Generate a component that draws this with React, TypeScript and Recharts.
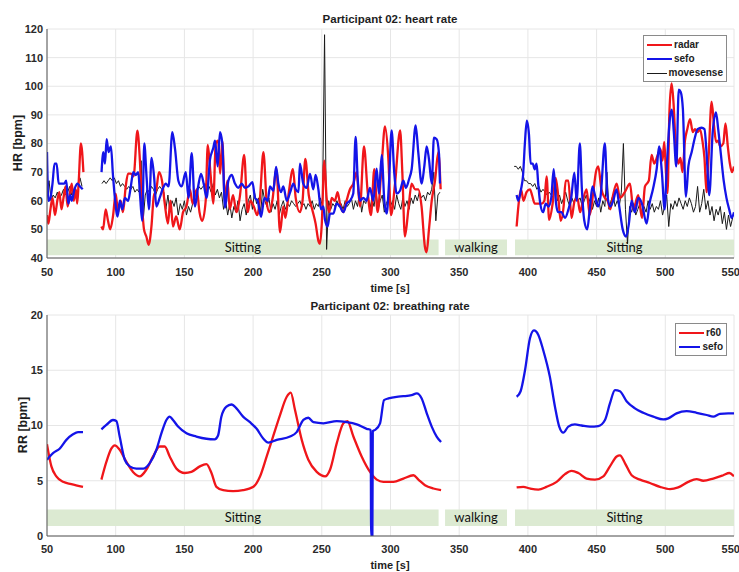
import React from 'react';
import { LineChart, Line, XAxis, YAxis, CartesianGrid, ReferenceArea, Legend } from 'recharts';

type Pt = [number, number];
type Row = { t: number; v: number | null };

const X_TICKS = [50, 100, 150, 200, 250, 300, 350, 400, 450, 500, 550];
const HR_TICKS = [40, 50, 60, 70, 80, 90, 100, 110, 120];
const RR_TICKS = [0, 5, 10, 15, 20];

const ACTIVITIES = [
  { label: 'Sitting', from: 50, to: 335 },
  { label: 'walking', from: 339.7, to: 384.8 },
  { label: 'Sitting', from: 390.6, to: 550 },
];

// heart rate, radar
const radarA: Pt[] = [
  [50, 55], [51, 52], [52.5, 57], [54, 61], [55.8, 55], [57.5, 60], [59, 63], [60.5, 57], [62, 61], [63.5, 65],
  [65, 58], [66.5, 62], [68, 66], [69.5, 60], [71, 64], [72, 59], [73, 66], [74.7, 80], [76.5, 70],
];
const radarB: Pt[] = [
  [89.6, 51], [90.8, 50], [92.7, 57], [94.4, 53], [96, 50], [98, 54.5], [100, 62.5], [101.7, 56], [103.6, 60], [105.3, 56],
  [107.3, 65], [109, 69.5], [111, 69.5], [113, 68.5], [115.8, 84.5], [117.5, 75], [119, 60], [120.6, 50], [122.3, 47.5], [124, 44.6],
  [126, 51], [127.7, 61.5], [129.6, 64], [131.5, 70], [133.7, 67], [135.7, 59], [138, 52], [139.8, 60], [141.7, 51], [144, 54.5],
  [146.6, 50], [149, 56], [151.5, 58], [154, 64], [156, 59], [159, 64], [161, 56], [163, 53], [165.5, 60], [167, 79.5],
  [169, 69.5], [171, 59], [172.8, 80], [174.5, 81], [176, 69.5], [177.6, 81], [179.4, 60], [181.3, 67], [183, 57], [185.4, 62],
  [187.9, 56], [190.5, 62], [193.5, 76], [196, 56], [198, 60], [200.5, 58], [203, 55], [205, 61], [207.5, 77], [210, 59],
  [212, 56], [214, 60], [217, 71], [219.6, 49], [222, 58], [223.5, 54], [226, 63], [229, 71], [231, 61], [234, 56],
  [236, 60], [238, 74.6], [240.5, 62], [243, 57], [245.5, 52], [247.5, 46], [248.7, 45], [250, 52], [251.8, 74], [253.5, 61],
  [255.5, 56], [257.2, 61], [259.5, 60], [261.5, 63], [263.2, 59], [265.6, 56], [268, 60], [270.5, 64], [273, 66], [275.3, 70],
  [277.8, 58], [280.7, 79], [283.4, 63], [285.8, 55], [288.2, 71], [290.6, 56], [293.5, 72], [296, 86], [298.4, 75], [300.4, 55],
  [303.3, 66], [307, 84.6], [308.6, 70], [310.5, 47.5], [313, 57], [315.4, 66], [317.8, 64], [320.2, 64], [322.6, 58], [325, 44],
  [326.3, 42], [328, 50], [330, 60], [332.4, 67], [334.8, 77], [336.5, 64],
];
const radarC: Pt[] = [
  [391.8, 51], [393.5, 60], [395, 64], [396.8, 60], [399, 63], [401.5, 64], [403, 62], [405, 59], [407.5, 59], [410, 59],
  [412, 60], [413.6, 68.5], [415.5, 53.3], [418, 59], [420.2, 68], [422, 62], [423.8, 53], [426, 58], [427.5, 67], [429.4, 67],
  [431.8, 54], [434, 60], [436, 61], [438, 56], [440, 60], [442.7, 64], [445, 55], [447.6, 63], [449.5, 70], [451.2, 72],
  [453.5, 64], [456, 61], [458, 60], [460, 57], [462, 62], [464.6, 66], [467, 61], [470.5, 63], [474.3, 66], [476.7, 57],
  [480.3, 62], [483, 54], [485.2, 65], [488, 67], [490, 76], [492, 73], [494.5, 76], [496.5, 78], [498, 74], [499.2, 80.6],
  [500.5, 70], [501.6, 62.6], [503, 91], [504.6, 101], [506, 94], [507.5, 80], [509.5, 73], [511, 75], [512.5, 70], [514.3, 81],
  [516, 85], [518, 88.5], [520, 84], [521.6, 85], [523.5, 84], [525.2, 85], [527, 81], [528.5, 75], [530, 63], [531.5, 75],
  [533.7, 94.6], [535.5, 86], [537, 80.5], [538.5, 81], [540, 79], [542.2, 80], [543.8, 87], [545.5, 79], [547, 73], [548.5, 70],
  [550, 72],
];

// heart rate, sefo
const sefoA: Pt[] = [
  [50, 77], [51, 60], [52.5, 61], [54, 66], [55.5, 73], [57, 73], [58.5, 66], [60.5, 66], [62.5, 66], [64, 67],
  [65.5, 59], [67, 62], [68, 60], [70, 64], [72, 66], [74, 65], [76, 64],
];
const sefoB: Pt[] = [
  [89.7, 70], [91, 77], [92.2, 73], [93.4, 81.5], [94.8, 77], [96.5, 79], [98, 69], [99.4, 61], [101.4, 54.5], [103, 60],
  [104.8, 57], [106.7, 61], [109, 60], [111, 65], [112.8, 70], [114.5, 69], [116.4, 70], [117.7, 62], [119.3, 53], [120.8, 80],
  [122.5, 68], [124.2, 57], [126.1, 75], [128, 68], [129.6, 58], [132, 61], [134.5, 64.5], [136.5, 66], [138.5, 65], [141.2, 84],
  [143.2, 78], [145.6, 67], [148, 65], [151, 70], [153, 61], [155.3, 76.6], [157.7, 58], [160, 65], [162.1, 69.4], [164, 66],
  [166.2, 61], [168.6, 74.3], [171, 78.4], [172.3, 81], [174.2, 72], [175.9, 84], [177.6, 80], [179.6, 57.6], [182, 67], [184.4, 69],
  [186.8, 66], [189.2, 64.5], [191.7, 66], [194.1, 64.5], [196.6, 65], [199.5, 66.5], [201.4, 61], [203.3, 60], [205.8, 54.4], [208.2, 61],
  [210.6, 60], [212.3, 65], [214.7, 63.5], [216.7, 71.8], [218.4, 66], [220.3, 63], [222, 65], [224.5, 60], [227, 63], [229.3, 66],
  [231, 64], [233, 63], [234.1, 73], [236.5, 66], [239, 64.5], [241.4, 69.4], [243.8, 64], [245.5, 69], [247.5, 64], [249.4, 57],
  [251.1, 58], [252.3, 53.4], [254.2, 51], [256, 55.5], [258.4, 55.5], [260.8, 59], [263.2, 58], [265.7, 56], [268.1, 59], [270.5, 60],
  [272.9, 62.5], [274.6, 82.3], [276.1, 68], [277.8, 60], [280.2, 61], [282.6, 60], [285, 64.5], [287.5, 60], [289.9, 71.2], [291.6, 62.5],
  [293.6, 75.9], [295.5, 60], [297.2, 55.5], [298.9, 66], [300.8, 84.6], [302.7, 70], [304.5, 62.5], [306.9, 63.5], [309.3, 67], [311.2, 64.5],
  [313.5, 67.5], [315.4, 71], [318.3, 86.3], [320.2, 77], [322.7, 66], [324.6, 72], [326.3, 79], [328, 74.5], [330, 66], [331.6, 82],
  [333.6, 81.5], [335.3, 76.4], [336, 66],
];
const sefoC: Pt[] = [
  [391.8, 62], [393, 60], [395, 64], [396.5, 69], [397.8, 80], [399.2, 88], [400.8, 83], [402, 73], [403.5, 73], [405, 71],
  [406.3, 73], [407.5, 66], [409, 59], [411, 56], [413, 59], [415, 58], [417, 61], [418.8, 71], [420.5, 59], [422, 56],
  [424.5, 56], [427, 54], [429.5, 57], [431.5, 61], [433.8, 69.8], [435.5, 60], [437.8, 80], [439.3, 64], [441, 53.2], [443.2, 50],
  [445, 57], [447, 65], [448.8, 62], [451, 58], [453, 62], [456, 80], [457.8, 62], [460, 58], [462.1, 60], [464.5, 64],
  [466.5, 58], [469, 50], [471.5, 47.5], [473.5, 52], [475.5, 60], [477.8, 56], [480.5, 61], [483, 59], [486.4, 52], [488.5, 59],
  [491, 64], [493.7, 71], [495.5, 79], [497.5, 70], [499.5, 57], [501, 71], [503.4, 89], [504.8, 91.8], [506.2, 84], [508, 72],
  [509.8, 98.8], [511.2, 98], [512.8, 92], [515, 61.4], [516.8, 72], [519.2, 77], [521.5, 82], [523.5, 85], [526.4, 85.5], [528.5, 85],
  [530, 77], [532, 62], [534.5, 84], [536.9, 90.9], [538.5, 85], [540.5, 76], [542.5, 67], [544.5, 61], [546.5, 57], [548.3, 54],
  [550, 56],
];

// heart rate, movesense (one value every 1.5 s from each start time)
const MOVESENSE_STEP = 1.5;
const movesenseA = { start: 50, values: [63, 67, 60, 62, 61, 63, 61, 62, 64, 62, 63, 65, 62, 64, 65, 66, 68, 65] };
const movesenseB = {
  start: 90,
  values: [
    66, 67, 66, 67, 68, 67, 68, 66, 67, 65,
    66, 65, 64, 65, 64, 65, 63, 64, 63, 74,
    53, 62, 64, 63, 65, 64, 62, 64, 65, 64,
    63, 57, 62, 56, 60, 58, 61, 55, 59, 57,
    60, 55, 58, 56, 59, 62, 64, 65, 64, 65,
    66, 64, 65, 63, 66, 62, 64, 61, 63, 57,
    60, 55, 59, 54, 58, 56, 60, 53, 57, 59,
    55, 60, 62, 57, 63, 59, 61, 56, 64, 60,
    58, 61, 56, 59, 57, 60, 55, 58, 60, 57,
    59, 58, 60, 59, 58, 59, 60, 58, 59, 57,
    59, 58, 60, 57, 59, 58, 61, 58, 118, 43,
    60, 57, 59, 58, 60, 58, 59, 57, 60, 58,
    59, 61, 57, 60, 58, 63, 56, 60, 59, 62,
    57, 61, 58, 63, 57, 60, 62, 56, 59, 61,
    58, 60, 57, 62, 59, 57, 61, 58, 60, 57,
    61, 59, 62, 60, 63, 61, 62, 60, 63, 62,
    64, 70, 53, 62, 63,
  ],
};
const movesenseC = {
  start: 390,
  values: [
    72, 72, 71, 72, 70, 67, 67, 66, 66, 65,
    66, 64, 65, 63, 64, 63, 62, 63, 62, 61,
    68, 60, 62, 59, 61, 63, 60, 58, 61, 59,
    62, 60, 61, 58, 60, 62, 59, 61, 57, 60,
    58, 61, 56, 60, 58, 70, 57, 60, 62, 58,
    60, 58, 63, 80, 57, 45, 58, 56, 59, 55,
    57, 59, 55, 58, 56, 60, 57, 59, 56, 58,
    57, 60, 55, 58, 62, 51, 59, 57, 60, 58,
    61, 59, 57, 60, 58, 61, 59, 56, 58, 65,
    56, 59, 64, 57, 60, 55, 58, 53, 57, 55,
    58, 52, 56, 50, 55, 51, 54,
  ],
};

// breathing rate, r60
const r60A: Pt[] = [[50, 8.3], [53.2, 6.3], [56.8, 5.4], [61.7, 4.9], [67.7, 4.7], [76.2, 4.45]];
const r60B: Pt[] = [
  [89.6, 5.1], [93.2, 6.7], [96.8, 7.9], [99.3, 8.2], [102.9, 7.8], [107.8, 6.7], [112.6, 5.8], [117.5, 5.4], [122.3, 6.0], [127.2, 7.2],
  [132, 8.1], [135.7, 8.1], [139.3, 7.2], [144.2, 6.1], [150.2, 5.7], [155.1, 5.8], [161.2, 6.3], [166, 6.5], [169.7, 5.7], [173.3, 4.45],
  [178.2, 4.15], [185.4, 4.07], [192.7, 4.15], [200.2, 4.45], [205.1, 5.4], [209.9, 7.2], [214.8, 9.1], [219.6, 10.95], [224.5, 12.6], [227.4, 12.97],
  [230.5, 11.4], [235.4, 8.7], [240.2, 6.9], [246.3, 5.8], [252.4, 5.4], [256, 6.0], [260.9, 8.4], [265.7, 10.2], [268.6, 10.4], [273, 9.0],
  [279, 7.2], [285.1, 5.8], [290, 5.1], [294.8, 4.9], [302.1, 4.9], [309.4, 5.2], [316.7, 5.5], [320.3, 5.1], [325.1, 4.6], [331.2, 4.3],
  [336.8, 4.15],
];
const r60C: Pt[] = [
  [391.8, 4.4], [396.6, 4.45], [401.5, 4.3], [407.6, 4.2], [413.6, 4.45], [420.9, 4.9], [427, 5.6], [431.8, 5.9], [436.7, 5.7], [442.7, 5.2],
  [448.8, 5.1], [454.9, 5.4], [459.7, 6.3], [464.6, 7.2], [467, 7.3], [470.6, 6.6], [475.5, 5.5], [481.6, 5.1], [488.8, 4.8], [496.1, 4.45],
  [503.4, 4.25], [509.4, 4.4], [516.7, 4.9], [522.8, 5.15], [527.6, 5.0], [534.9, 5.2], [542.2, 5.5], [546.6, 5.7], [550, 5.4],
];

// breathing rate, sefo
const sefoRrA: Pt[] = [[50, 6.9], [54.4, 7.5], [59.2, 7.9], [64.1, 8.7], [68.9, 9.2], [72.6, 9.4], [76.2, 9.4]];
const sefoRrB: Pt[] = [
  [89.6, 9.65], [93.2, 10.05], [98, 10.5], [100.5, 10.4], [102.9, 9.0], [106.6, 6.9], [110.2, 6.3], [115, 6.1], [120, 6.1], [124.8, 6.6],
  [129.6, 7.8], [133.3, 9.3], [136.9, 10.5], [139.3, 10.8], [141.7, 10.5], [145.4, 9.9], [151.5, 9.3], [158.7, 9.0], [166, 8.8], [172, 8.75],
  [174.5, 9.1], [176.9, 10.8], [180.6, 11.7], [184.2, 11.9], [187.9, 11.55], [192.7, 10.8], [197.7, 10.3], [202.6, 9.7], [207.5, 8.8], [211.1, 8.45],
  [217.2, 8.7], [226.9, 9.0], [231.7, 9.4], [236.6, 10.5], [240.2, 10.7], [243.9, 10.3], [251.2, 10.2], [260.9, 10.4], [268.1, 10.3], [275.4, 10.1],
  [282.7, 9.7], [285.6, 9.6], [285.9, 0], [286.8, 0], [287.1, 9.5], [288.8, 9.6], [292.4, 10.2], [295.3, 12.3], [298.5, 12.45], [304.5, 12.6],
  [309.4, 12.65], [315.4, 12.75], [319.1, 12.9], [322.7, 12.45], [326.4, 11.1], [330, 9.9], [333.6, 9.0], [336.8, 8.5],
];
const sefoRrC: Pt[] = [
  [391.8, 12.6], [394.7, 13.1], [397.9, 15.0], [401.5, 17.9], [404.4, 18.6], [407.6, 18.2], [411.2, 16.8], [416, 14.4], [419.7, 11.7], [422.8, 9.9],
  [425.8, 9.35], [429.4, 9.9], [434.2, 10.1], [439.1, 10.0], [445.2, 9.9], [451.2, 9.95], [456.1, 10.5], [459.7, 12.0], [463.4, 13.2], [467, 13.1],
  [471.8, 12.2], [477.9, 11.55], [484, 11.15], [491.3, 10.8], [498.5, 10.55], [502.2, 10.65], [508.2, 11.1], [515.5, 11.3], [522.8, 11.15], [530.1, 10.95],
  [534.9, 10.8], [539.8, 11.05], [545.8, 11.1], [550, 11.1],
];

const RED = '#f0161a';
const BLUE = '#1414e8';
const BLACK = '#1a1a1a';
const BAND = '#dcead2';
const FONT = '"Liberation Sans", Arial, sans-serif';

const stepSegment = (seg: { start: number; values: number[] }): Pt[] =>
  seg.values.map((v, i) => [seg.start + i * MOVESENSE_STEP, v]);

// segments are joined with a null row so the line breaks in the gaps
const joinSegments = (segs: Pt[][]): Row[] => {
  const rows: Row[] = [];
  segs.forEach((seg, i) => {
    if (i > 0) {
      const prev = segs[i - 1];
      rows.push({ t: (prev[prev.length - 1][0] + seg[0][0]) / 2, v: null });
    }
    seg.forEach(([t, v]) => rows.push({ t, v }));
  });
  return rows;
};

const radarRows = joinSegments([radarA, radarB, radarC]);
const sefoRows = joinSegments([sefoA, sefoB, sefoC]);
const movesenseRows = joinSegments([stepSegment(movesenseA), stepSegment(movesenseB), stepSegment(movesenseC)]);
const r60Rows = joinSegments([r60A, r60B, r60C]);
const sefoRrRows = joinSegments([sefoRrA, sefoRrB, sefoRrC]);

const tickStyle = { fill: '#2a2a2a', fontSize: 11, fontWeight: 700, fontFamily: FONT };

type LegendItem = { name: string; color: string; width: number };

const legendBox = (items: LegendItem[]) => () => (
  <div
    style={{
      background: '#fff',
      border: '1px solid #8a8a8a',
      padding: '2px 3px 1px 3px',
      fontFamily: FONT,
      fontSize: 10,
      fontWeight: 700,
      color: '#222',
      lineHeight: '14px',
    }}
  >
    {items.map((it) => (
      <div key={it.name} style={{ display: 'flex', alignItems: 'center' }}>
        <span style={{ display: 'inline-block', width: 25, borderTop: `${it.width}px solid ${it.color}`, marginRight: 2 }} />
        {it.name}
      </div>
    ))}
  </div>
);

const bands = (y1: number, y2: number) =>
  ACTIVITIES.map((a, i) => (
    <ReferenceArea
      key={i}
      x1={a.from}
      x2={a.to}
      y1={y1}
      y2={y2}
      fill={BAND}
      fillOpacity={1}
      stroke="none"
      ifOverflow="visible"
      label={{ value: a.label, position: 'center', fill: '#111', fontSize: 13, fontFamily: 'Lato, sans-serif' }}
    />
  ));

function Caption({ x, y, text, rotate = false, size = 11 }: { x: number; y: number; text: string; rotate?: boolean; size?: number }) {
  return (
    <div
      style={{
        position: 'absolute',
        left: x,
        top: y,
        transform: `translate(-50%, -50%)${rotate ? ' rotate(-90deg)' : ''}`,
        whiteSpace: 'nowrap',
        fontFamily: FONT,
        fontSize: size,
        fontWeight: 700,
        color: '#1e1e1e',
      }}
    >
      {text}
    </div>
  );
}

function HeartRatePanel() {
  return (
    <LineChart width={739} height={290} margin={{ top: 29, right: 5, bottom: 12, left: 7 }}>
      <CartesianGrid stroke="#e6e6e6" />
      <XAxis dataKey="t" type="number" domain={[50, 550]} ticks={X_TICKS} allowDataOverflow height={20}
        tickSize={0} tickMargin={10} stroke="#555" tick={tickStyle} />
      <YAxis type="number" domain={[40, 120]} ticks={HR_TICKS} allowDataOverflow width={40}
        tickSize={0} tickMargin={4} stroke="#555" tick={tickStyle} />
      {bands(41, 46.5)}
      <Line name="movesense" data={movesenseRows} dataKey="v" type="linear" stroke={BLACK} strokeWidth={1}
        dot={false} isAnimationActive={false} connectNulls={false} />
      <Line name="radar" data={radarRows} dataKey="v" type="monotone" stroke={RED} strokeWidth={2.3}
        dot={false} isAnimationActive={false} connectNulls={false} />
      <Line name="sefo" data={sefoRows} dataKey="v" type="monotone" stroke={BLUE} strokeWidth={2.3}
        dot={false} isAnimationActive={false} connectNulls={false} />
      <Legend
        layout="vertical"
        align="center"
        verticalAlign="middle"
        wrapperStyle={{ left: 643, top: 35, width: 84, height: 'auto' }}
        content={legendBox([
          { name: 'radar', color: RED, width: 2 },
          { name: 'sefo', color: BLUE, width: 2 },
          { name: 'movesense', color: BLACK, width: 1 },
        ])}
      />
    </LineChart>
  );
}

function BreathingRatePanel() {
  return (
    <LineChart width={739} height={286} margin={{ top: 29, right: 5, bottom: 16, left: 7 }}>
      <CartesianGrid stroke="#e6e6e6" />
      <XAxis dataKey="t" type="number" domain={[50, 550]} ticks={X_TICKS} allowDataOverflow height={20}
        tickSize={0} tickMargin={9} stroke="#555" tick={tickStyle} />
      <YAxis type="number" domain={[0, 20]} ticks={RR_TICKS} allowDataOverflow width={40}
        tickSize={0} tickMargin={4} stroke="#555" tick={tickStyle} />
      {bands(0.9, 2.4)}
      <Line name="r60" data={r60Rows} dataKey="v" type="monotone" stroke={RED} strokeWidth={2.3}
        dot={false} isAnimationActive={false} connectNulls={false} />
      <Line name="sefo" data={sefoRrRows} dataKey="v" type="monotone" stroke={BLUE} strokeWidth={2.3}
        dot={false} isAnimationActive={false} connectNulls={false} />
      <Legend
        layout="vertical"
        align="center"
        verticalAlign="middle"
        wrapperStyle={{ left: 675, top: 37, width: 52, height: 'auto' }}
        content={legendBox([
          { name: 'r60', color: RED, width: 2 },
          { name: 'sefo', color: BLUE, width: 2 },
        ])}
      />
    </LineChart>
  );
}

export default function App() {
  return (
    <div style={{ position: 'absolute', left: 0, top: 0, width: 739, height: 572, background: '#fff', fontFamily: FONT }}>
      <div style={{ position: 'absolute', left: 0, top: 0 }}>
        <HeartRatePanel />
      </div>
      <div style={{ position: 'absolute', left: 0, top: 286 }}>
        <BreathingRatePanel />
      </div>
      <Caption x={390} y={19} text="Participant 02: heart rate" size={11.5} />
      <Caption x={390} y={288} text="time [s]" />
      <Caption x={390} y={306} text="Participant 02: breathing rate" size={11.5} />
      <Caption x={390} y={565} text="time [s]" />
      <Caption x={18} y={143} text="HR [bpm]" rotate size={12.5} />
      <Caption x={23} y={425} text="RR [bpm]" rotate size={12.5} />
    </div>
  );
}
